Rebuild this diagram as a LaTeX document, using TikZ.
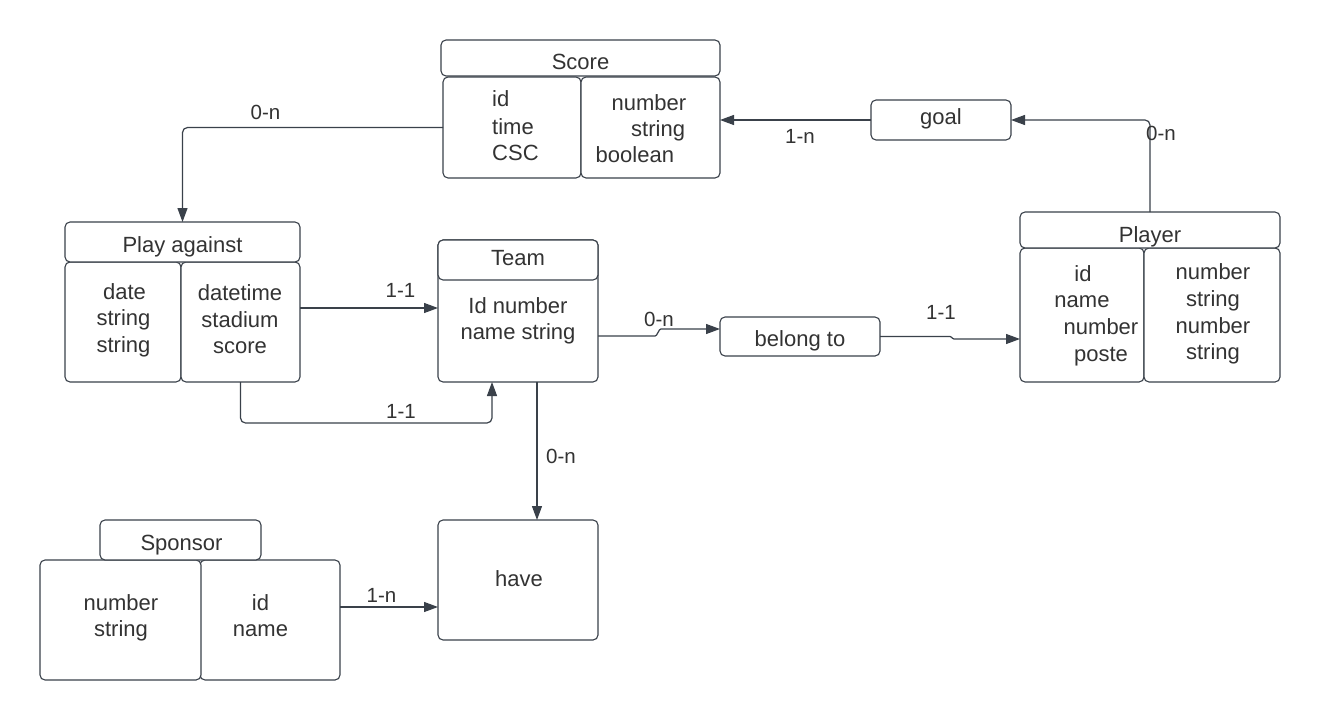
\documentclass[tikz,border=0pt]{standalone}
\usepackage{fontspec}
\setmainfont{Liberation Sans}
\usetikzlibrary{arrows.meta,calc}
\definecolor{ink}{HTML}{333333}
\definecolor{linec}{HTML}{3A414A}
\tikzset{
  box/.style={draw=linec, line width=1.1pt, rounded corners=5pt, inner sep=0pt, outer sep=0pt, fill=white},
  btxt/.style={font=\fontsize{22}{26}\selectfont, text=ink, inner sep=0pt, anchor=base},
  ltxt/.style={font=\fontsize{20.5}{24}\selectfont, text=ink, inner sep=0pt, anchor=base},
  conn/.style={draw=linec, line width=1.2pt, rounded corners=5pt},
  arr/.style={conn, -{Triangle[length=14pt,width=10pt]}}
}
\newcommand\ebox[5]{\node[box, minimum width=#4pt, minimum height=#5pt] (#1) at (#2,#3) {};}
\begin{document}
\begin{tikzpicture}[x=1pt,y=-1pt]
\useasboundingbox[fill=white] (0,0) rectangle (1320,720);

% ---- Score
\ebox{scL}{512}{127.5}{138}{101}
\ebox{scR}{650.5}{127.5}{139}{101}
\ebox{scH}{580.5}{58}{279}{36}
\node[btxt] (scT) at (580.5,69) {Score};
\node[btxt, anchor=base west] (sc1) at (492,106) {id};
\node[btxt, anchor=base west] (sc2) at (492,134) {time};
\node[btxt, anchor=base west] (sc3) at (492,160) {CSC};
\node[btxt, anchor=base west] (sc4) at (611.5,110) {number};
\node[btxt, anchor=base west] (sc5) at (631,136) {string};
\node[btxt, anchor=base west] (sc6) at (595.5,162) {boolean};

% ---- goal
\ebox{goal}{941}{120}{140}{40}
\node[btxt] (goalT) at (941,124.5) {goal};

% ---- Play against
\ebox{paL}{123}{322}{116}{120}
\ebox{paR}{240.5}{322}{119}{120}
\ebox{paH}{182.5}{242}{235}{40}
\node[btxt] (paT) at (182.5,252.5) {Play against};
\node[btxt] (pa1) at (124.5,299) {date};
\node[btxt] (pa2) at (123.5,325) {string};
\node[btxt] (pa3) at (123.5,352) {string};
\node[btxt] (pa4) at (240,300.5) {datetime};
\node[btxt] (pa5) at (240,327) {stadium};
\node[btxt] (pa6) at (240,353) {score};

% ---- Team
\ebox{tmB}{518}{311}{160}{142}
\ebox{tmH}{518}{260}{160}{40}
\node[btxt] (tmT) at (518,265) {Team};
\node[btxt] (tm1) at (518,313) {Id number};
\node[btxt] (tm2) at (518,339) {name string};

% ---- belong to
\ebox{bel}{800}{336.5}{160}{39}
\node[btxt] (belT) at (800,346) {belong to};

% ---- Player
\ebox{plL}{1082}{315}{124}{134}
\ebox{plR}{1212}{315}{136}{134}
\ebox{plH}{1150}{230}{260}{36}
\node[btxt] (plT) at (1150,242) {Player};
\node[btxt] (pl1) at (1083,281) {id};
\node[btxt] (pl2) at (1082,307) {name};
\node[btxt] (pl3) at (1101,334) {number};
\node[btxt] (pl4) at (1101,361) {poste};
\node[btxt] (pl5) at (1213,279) {number};
\node[btxt] (pl6) at (1213,306) {string};
\node[btxt] (pl7) at (1213,333) {number};
\node[btxt] (pl8) at (1213,359) {string};

% ---- have
\ebox{have}{518}{580}{160}{120}
\node[btxt] (haveT) at (519,586) {have};

% ---- Sponsor
\ebox{spR}{270}{620}{140}{120}
\ebox{spL}{120.5}{620}{161}{120}
\ebox{spH}{180.5}{540}{161}{40}
\node[btxt] (spT) at (181.5,550) {Sponsor};
\node[btxt] (sp1) at (121,610.5) {number};
\node[btxt] (sp2) at (121,636.5) {string};
\node[btxt] (sp3) at (260.5,610.5) {id};
\node[btxt] (sp4) at (260.5,636.5) {name};

% ---- connectors
\draw[arr] (scL.west) -| (paH.north);
\node[ltxt] (l1) at (265.5,119.3) {0-n};

\draw[arr] (goal.west) -- (goal.west -| scR.east);
\node[ltxt] (l2) at (800,143) {1-n};

\draw[arr] (plH.north) |- (goal.east);
\node[ltxt] (l3) at (1161,140) {0-n};

\draw[arr] ($(paR.east)+(0,-14)$) coordinate (p1) -- (p1 -| tmB.west);
\node[ltxt] (l4) at (400.5,297.3) {1-1};

\draw[arr] (paR.south) -- ++(0,41) -| ($(tmB.south)+(-26,0)$);
\node[ltxt] (l5) at (401,418.3) {1-1};

\draw[arr, rounded corners=1pt] ($(tmB.east)+(0,25)$) -- ++(58,0) -- ++(4,-7) -- ($(bel.west)+(0,-7.5)$);
\node[ltxt] (l6) at (659,326.7) {0-n};

\draw[arr, rounded corners=1pt] (bel.east) -- ++(71,0) -- ++(2,2.5) -- ($(plL.west)+(0,24)$);
\node[ltxt] (l7) at (941,319.3) {1-1};

\draw[arr] ($(tmB.south)+(19,0)$) -- ($(have.north)+(19,0)$);
\node[ltxt] (l8) at (561,463.3) {0-n};

\draw[arr] ($(spR.east)+(0,-13)$) coordinate (p2) -- (p2 -| have.west);
\node[ltxt] (l9) at (381.5,602.7) {1-n};
\end{tikzpicture}
\end{document}
